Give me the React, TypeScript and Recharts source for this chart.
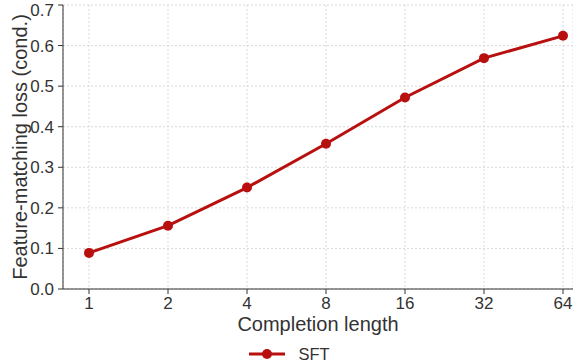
import { CartesianGrid, Legend, Line, LineChart, XAxis, YAxis } from 'recharts';

const lengths = ['1', '2', '4', '8', '16', '32', '64'];
const sftLoss = [0.089, 0.156, 0.25, 0.358, 0.472, 0.569, 0.624];
const yTicks = [0, 0.1, 0.2, 0.3, 0.4, 0.5, 0.6, 0.7];

const RED = '#b8100f';
const AXIS = '#333333';
const FONT = '"Liberation Sans", Arial, Helvetica, sans-serif';

const rows = lengths.map((len, i) => ({ len, sft: sftLoss[i] }));

function YLabel({ viewBox }: any) {
  const cy = viewBox.y + viewBox.height / 2;
  return (
    <text
      x={20}
      y={cy}
      transform={`rotate(-90, 20, ${cy})`}
      textAnchor="middle"
      dominantBaseline="central"
      fontSize={20}
      fill={AXIS}
      fontFamily={FONT}
    >
      Feature-matching loss (cond.)
    </text>
  );
}

function LegendBox() {
  return (
    <div
      style={{
        display: 'flex',
        justifyContent: 'center',
        alignItems: 'center',
        height: 30,
        boxSizing: 'border-box',
        paddingTop: 10,
        paddingLeft: 6,
      }}
    >
      <svg width={36} height={14}>
        <line x1={0} y1={7} x2={36} y2={7} stroke={RED} strokeWidth={3} />
        <circle cx={18} cy={7} r={5} fill={RED} />
      </svg>
      <span style={{ marginLeft: 13, fontSize: 16.5, color: AXIS, fontFamily: FONT, lineHeight: '18px' }}>SFT</span>
    </div>
  );
}

export default function App() {
  return (
    <div style={{ position: 'fixed', left: 0, top: 0, width: 573, height: 364, background: '#fff' }}>
      <LineChart width={573} height={364} data={rows} margin={{ top: 5, right: 0, left: 0, bottom: 0 }}>
        <CartesianGrid stroke="#d9d9d9" strokeDasharray="2 2" />
        <XAxis
          dataKey="len"
          height={45}
          padding={{ left: 26, right: 10 }}
          stroke={AXIS}
          tickSize={5}
          tickMargin={3}
          tick={{ fill: AXIS, fontSize: 17, fontFamily: FONT }}
          label={{ value: 'Completion length', position: 'insideBottom', offset: 3, fontSize: 20, fill: AXIS, fontFamily: FONT }}
        />
        <YAxis
          width={63}
          domain={[0, 0.7]}
          ticks={yTicks}
          tickFormatter={(v: number) => v.toFixed(1)}
          stroke={AXIS}
          tickSize={5}
          tickMargin={4}
          tick={{ fill: AXIS, fontSize: 17, fontFamily: FONT }}
          label={<YLabel />}
        />
        <Legend verticalAlign="bottom" height={30} content={<LegendBox />} />
        <Line
          type="linear"
          dataKey="sft"
          name="SFT"
          stroke={RED}
          strokeWidth={3}
          dot={{ r: 5, fill: RED, stroke: RED, strokeWidth: 0 }}
          activeDot={false}
          isAnimationActive={false}
        />
      </LineChart>
    </div>
  );
}
